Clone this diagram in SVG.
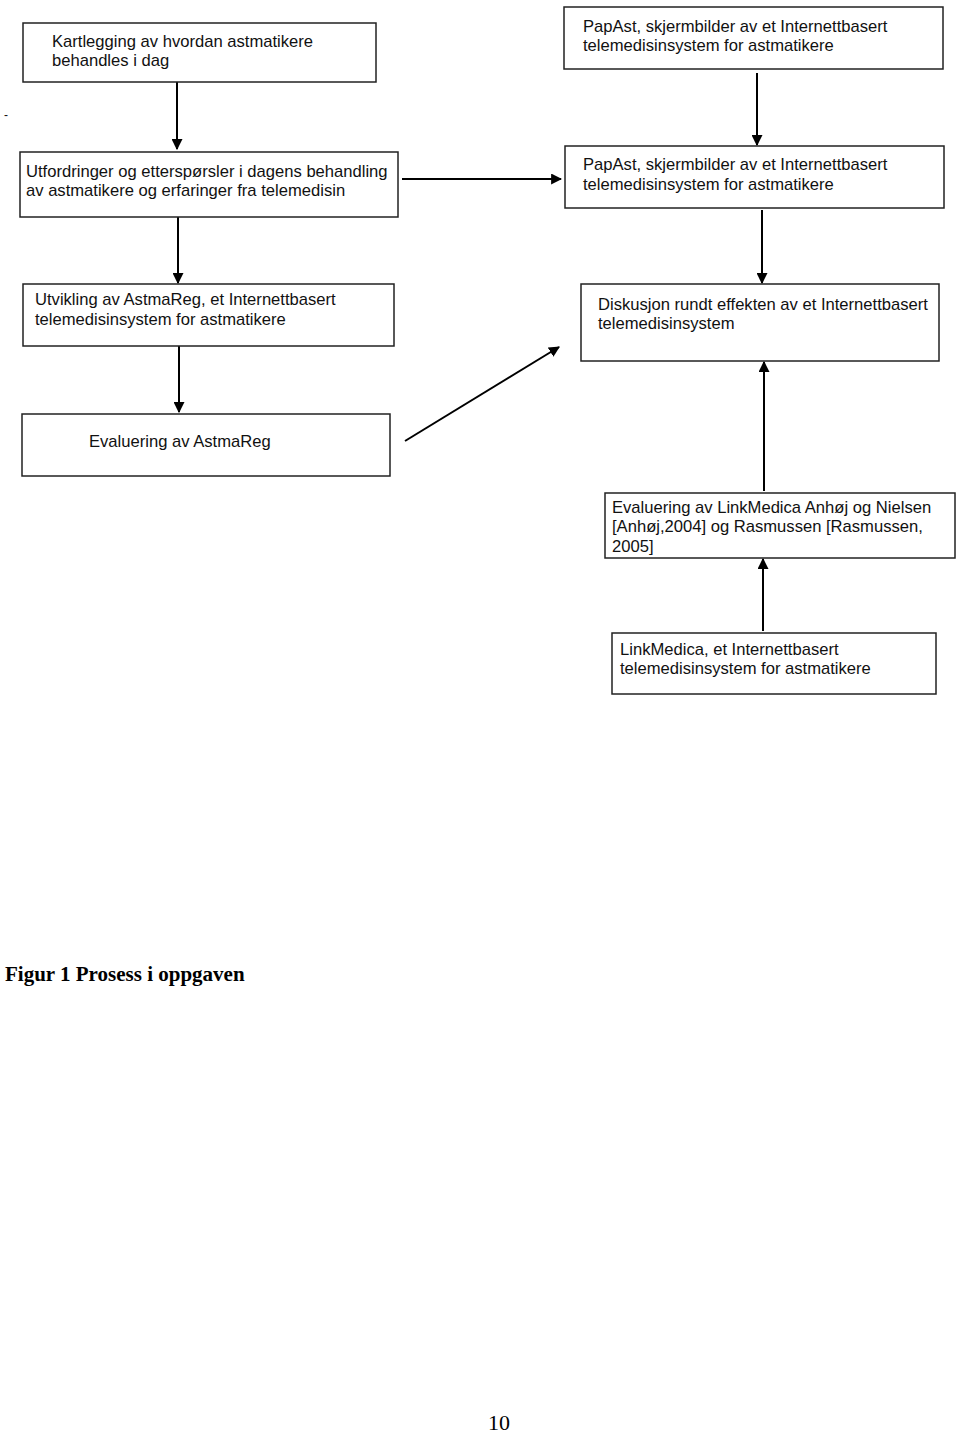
<svg xmlns="http://www.w3.org/2000/svg" width="960" height="1434" viewBox="0 0 960 1434">
<style>
.box{fill:#fff;stroke:#222;stroke-width:1.5}
.t{font-family:"Liberation Sans",Arial,sans-serif;font-size:16.6px;fill:#111}
.c{stroke:#000;stroke-width:2;fill:none;marker-end:url(#ah)}
.cap{font-family:"Liberation Serif","Times New Roman",serif;font-size:21px;font-weight:bold;fill:#000}
.pg{font-family:"Liberation Serif","Times New Roman",serif;font-size:22px;fill:#000}
</style>
<defs>
<marker id="ah" viewBox="0 0 10 10" refX="9" refY="5" markerWidth="5.5" markerHeight="5.5" orient="auto" markerUnits="strokeWidth">
<path d="M0,0 L10,5 L0,10 z" fill="#000"/>
</marker>
</defs>
<rect width="960" height="1434" fill="#fff"/>
<g id="connectors">
<line class="c" x1="177" y1="82" x2="177" y2="149"/>
<line class="c" x1="178" y1="217" x2="178" y2="283"/>
<line class="c" x1="179" y1="346" x2="179" y2="412"/>
<line class="c" x1="757" y1="73" x2="757" y2="145"/>
<line class="c" x1="762" y1="210" x2="762" y2="283"/>
<line class="c" x1="402" y1="179" x2="561" y2="179"/>
<line class="c" x1="405" y1="441" x2="559" y2="347"/>
<line class="c" x1="764" y1="491" x2="764" y2="362"/>
<line class="c" x1="763" y1="631" x2="763" y2="559"/>
</g>
<g id="n1"><rect class="box" x="23" y="23" width="353" height="59"/>
<text class="t" x="52" y="47">Kartlegging av hvordan astmatikere</text>
<text class="t" x="52" y="66">behandles i dag</text></g>
<g id="n2"><rect class="box" x="20" y="152" width="378" height="65"/>
<text class="t" x="26" y="177">Utfordringer og etterspørsler i dagens behandling</text>
<text class="t" x="26" y="196">av astmatikere og erfaringer fra telemedisin</text></g>
<g id="n3"><rect class="box" x="23" y="284" width="371" height="62"/>
<text class="t" x="35" y="305">Utvikling av AstmaReg, et Internettbasert</text>
<text class="t" x="35" y="325">telemedisinsystem for astmatikere</text></g>
<g id="n4"><rect class="box" x="22" y="414" width="368" height="62"/>
<text class="t" x="89" y="447">Evaluering av AstmaReg</text></g>
<g id="r1"><rect class="box" x="564" y="7" width="379" height="62"/>
<text class="t" x="583" y="32">PapAst, skjermbilder av et Internettbasert</text>
<text class="t" x="583" y="51">telemedisinsystem for astmatikere</text></g>
<g id="r2"><rect class="box" x="565" y="146" width="379" height="62"/>
<text class="t" x="583" y="170">PapAst, skjermbilder av et Internettbasert</text>
<text class="t" x="583" y="190">telemedisinsystem for astmatikere</text></g>
<g id="r3"><rect class="box" x="581" y="284" width="358" height="77"/>
<text class="t" x="598" y="310">Diskusjon rundt effekten av et Internettbasert</text>
<text class="t" x="598" y="329">telemedisinsystem</text></g>
<g id="r4"><rect class="box" x="605" y="493" width="350" height="65"/>
<text class="t" x="612" y="513">Evaluering av LinkMedica Anhøj og Nielsen</text>
<text class="t" x="612" y="532">[Anhøj,2004] og Rasmussen [Rasmussen,</text>
<text class="t" x="612" y="552">2005]</text></g>
<g id="r5"><rect class="box" x="612" y="633" width="324" height="61"/>
<text class="t" x="620" y="655">LinkMedica, et Internettbasert</text>
<text class="t" x="620" y="674">telemedisinsystem for astmatikere</text></g>
<text class="t" x="4" y="119" style="font-size:12px">-</text>
<text class="cap" x="5" y="981">Figur 1 Prosess i oppgaven</text>
<text class="pg" x="488" y="1430">10</text>
</svg>
